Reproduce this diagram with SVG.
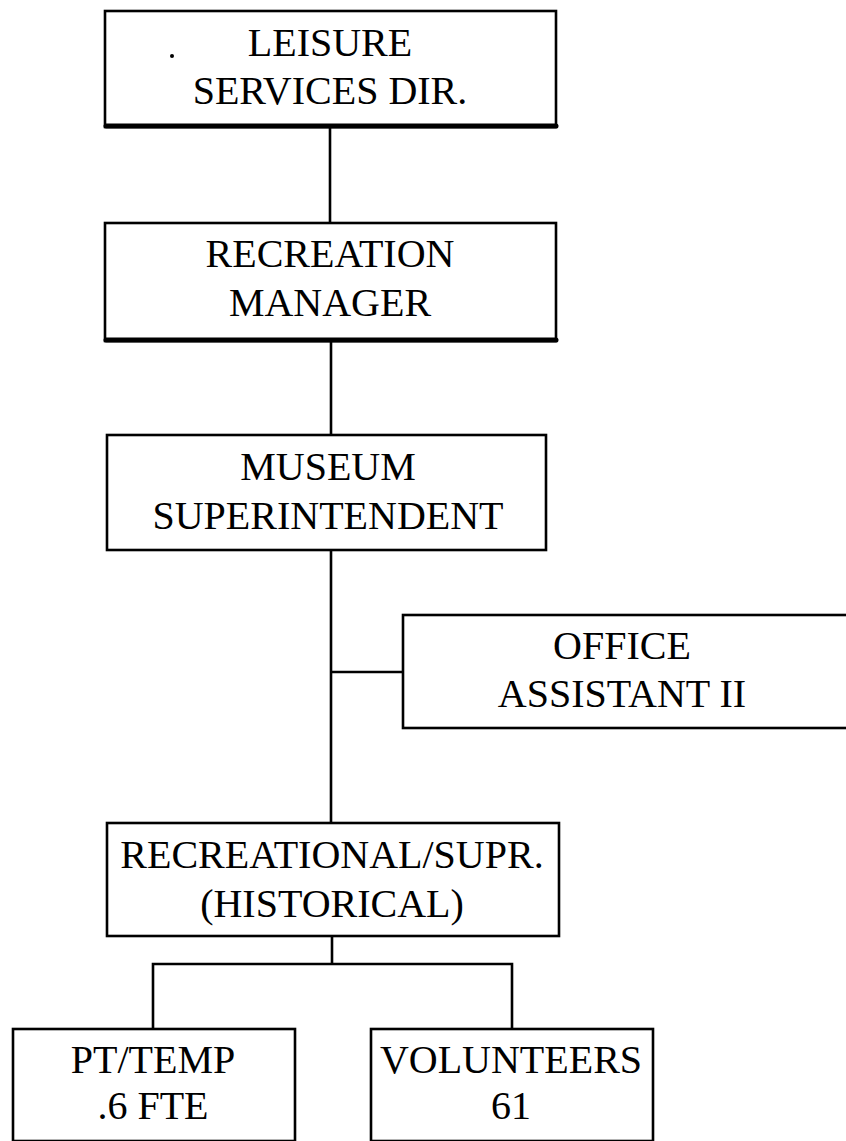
<svg xmlns="http://www.w3.org/2000/svg" width="846" height="1141" viewBox="0 0 846 1141">
  <style>
    .box { fill: #fff; stroke: #000; stroke-width: 2.6; }
    .shadow { stroke: #000; stroke-width: 5; stroke-linecap: round; fill: none; }
    .link { stroke: #000; stroke-width: 2.6; fill: none; }
    .label { font-family: "Liberation Serif", "Times New Roman", serif; font-size: 40px; fill: #000; text-anchor: middle; }
  </style>
  <rect width="846" height="1141" fill="#fff"/>

  <!-- reporting lines -->
  <g id="connectors">
    <line class="link" x1="330" y1="127" x2="330" y2="223"/>
    <line class="link" x1="331" y1="341" x2="331" y2="435"/>
    <line class="link" x1="331" y1="550" x2="331" y2="823"/>
    <line class="link" x1="331" y1="672" x2="403" y2="672"/>
    <line class="link" x1="332" y1="936" x2="332" y2="964"/>
    <polyline class="link" points="153,1029 153,964 512,964 512,1029"/>
  </g>

  <g id="leisure-services-dir">
    <rect class="box" x="105" y="11" width="451" height="116"/>
    <line class="shadow" x1="106" y1="126" x2="556" y2="126"/>
    <circle cx="172" cy="56" r="2" fill="#000"/>
    <text class="label" x="330" y="56">LEISURE</text>
    <text class="label" x="330" y="104">SERVICES DIR.</text>
  </g>

  <g id="recreation-manager">
    <rect class="box" x="105" y="223" width="451" height="118"/>
    <line class="shadow" x1="106" y1="340" x2="556" y2="340"/>
    <text class="label" x="330" y="267">RECREATION</text>
    <text class="label" x="330" y="316">MANAGER</text>
  </g>

  <g id="museum-superintendent">
    <rect class="box" x="107" y="435" width="439" height="115"/>
    <text class="label" x="328" y="480">MUSEUM</text>
    <text class="label" x="328" y="529">SUPERINTENDENT</text>
  </g>

  <g id="office-assistant">
    <rect class="box" x="403" y="615" width="460" height="113"/>
    <text class="label" x="622" y="659">OFFICE</text>
    <text class="label" x="622" y="707">ASSISTANT II</text>
  </g>

  <g id="recreational-supr">
    <rect class="box" x="107" y="823" width="452" height="113"/>
    <text class="label" x="332" y="868">RECREATIONAL/SUPR.</text>
    <text class="label" x="332" y="917">(HISTORICAL)</text>
  </g>

  <g id="pt-temp">
    <rect class="box" x="13" y="1029" width="282" height="112"/>
    <text class="label" x="153" y="1073">PT/TEMP</text>
    <text class="label" x="153" y="1119">.6 FTE</text>
  </g>

  <g id="volunteers">
    <rect class="box" x="371" y="1029" width="282" height="112"/>
    <text class="label" x="511" y="1073">VOLUNTEERS</text>
    <text class="label" x="511" y="1119">61</text>
  </g>
</svg>
